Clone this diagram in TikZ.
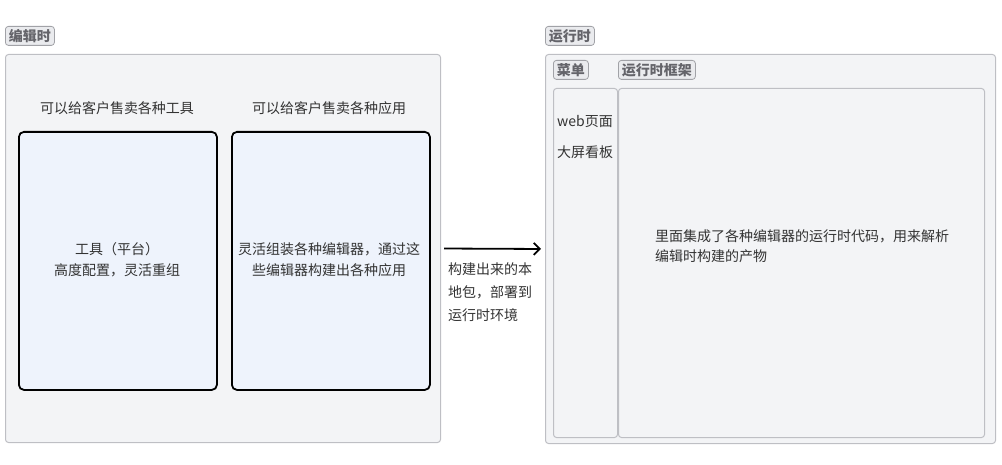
\documentclass[tikz,border=0pt]{standalone}
\usepackage{fontspec}
\setmainfont{Noto Sans CJK SC}
\usetikzlibrary{arrows.meta,positioning}
\definecolor{grpFill}{RGB}{243,244,246}
\definecolor{grpLine}{RGB}{190,191,196}
\definecolor{tagFill}{RGB}{234,235,238}
\definecolor{cardFill}{RGB}{238,243,252}
\definecolor{txtGray}{RGB}{51,51,51}
\definecolor{tagText}{RGB}{100,100,106}
\tikzset{
  grpbox/.style={draw=grpLine, fill=grpFill, line width=1pt, rounded corners=3pt,
    anchor=north west, inner sep=0pt},
  tagbox/.style={draw=grpLine!85!black, fill=tagFill, line width=0.8pt, rounded corners=3pt,
    anchor=north west, text=tagText, font=\fontsize{14}{16}\bfseries,
    inner xsep=3.5pt, inner ysep=1.5pt, minimum height=19pt},
  cardbox/.style={draw=black, fill=cardFill, line width=1.8pt, rounded corners=5pt,
    anchor=north west, inner sep=0pt, minimum width=198pt, minimum height=258pt},
  plain/.style={text=txtGray, font=\fontsize{14}{21}\selectfont, inner sep=0pt}
}

\begin{document}
\begin{tikzpicture}[x=1pt,y=-1pt]
  \useasboundingbox (0,0) rectangle (1002,465);

  % editing side
  \node[tagbox] (edittag) at (5,26) {编辑时};
  \node[grpbox, minimum width=435pt, minimum height=388pt] (editgroup) at (5,54) {};
  \node[plain] (toolhead) at (117,108) {可以给客户售卖各种工具};
  \node[plain] (apphead) at (329,108) {可以给客户售卖各种应用};
  \node[cardbox] (toolcard) at (18,131) {};
  \node[cardbox] (appcard) at (231,131) {};
  \node[plain, align=center] (tooltext) at (117,260) {工具（平台）\\高度配置，灵活重组};
  \node[plain, align=center] (apptext) at (329,260) {灵活组装各种编辑器，通过这\\些编辑器构建出各种应用};

  % runtime side
  \node[tagbox] (runtag) at (545,26) {运行时};
  \node[grpbox, minimum width=450pt, minimum height=389pt] (rungroup) at (545,54) {};
  \node[tagbox] (menutag) at (553,60) {菜单};
  \node[tagbox] (frametag) at (618,60) {运行时框架};
  \node[grpbox, minimum width=64pt, minimum height=349pt] (menubox) at (553,88) {};
  \node[grpbox, minimum width=366pt, minimum height=349pt] (framebox) at (618,88) {};
  \node[plain] (webpage) at (585,122) {web页面};
  \node[plain] (dashboard) at (585,152) {大屏看板};
  \node[plain, align=left, anchor=west, font=\fontsize{14}{20}\selectfont] (frametext) at (655,246)
    {里面集成了各种编辑器的运行时代码，用来解析\\编辑时构建的产物};

  % build and deploy
  \draw[-{Straight Barb[length=6pt,width=12pt]}, line width=1.8pt, shorten <=3pt, shorten >=4pt]
    (editgroup.east) -- (rungroup.west);
  \node[plain, align=left, anchor=north west, font=\fontsize{14}{23}\selectfont] (deploytext) at (448,262)
    {构建出来的本\\地包，部署到\\运行时环境};
\end{tikzpicture}
\end{document}
